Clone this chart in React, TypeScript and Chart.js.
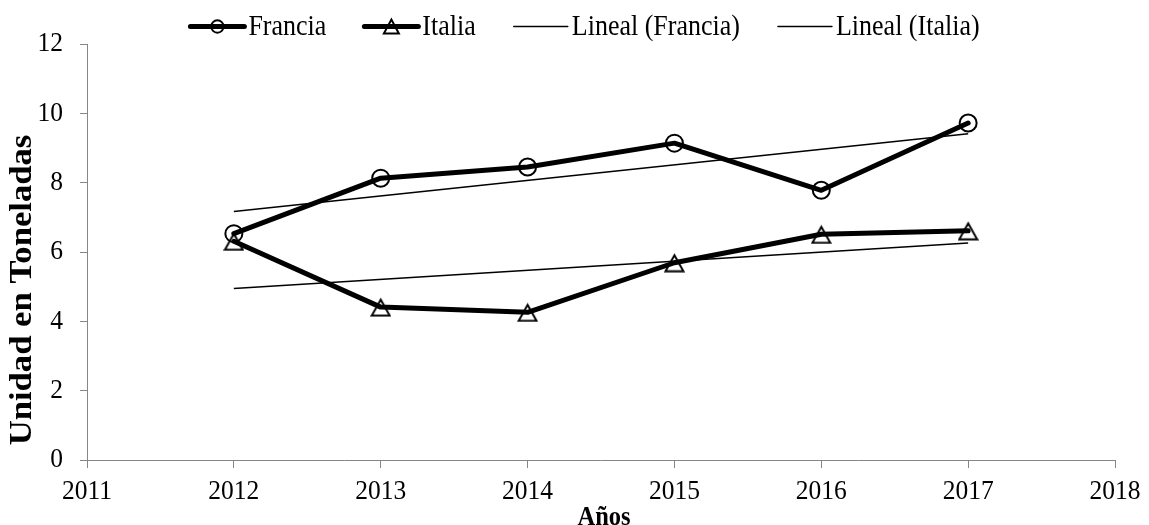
import React, { useEffect, useRef } from 'react';
import { Chart, registerables } from 'chart.js';

Chart.register(...registerables);

// ---- data ----
const years = [2012, 2013, 2014, 2015, 2016, 2017];
const francia = [6.53, 8.13, 8.45, 9.14, 7.78, 9.72];
const italia = [6.31, 4.41, 4.26, 5.69, 6.51, 6.61];
const trendYears = [2012, 2017];
const trendFrancia = [7.17, 9.41];
const trendItalia = [4.95, 6.26];
const seriesLabels = ['Francia', 'Italia', 'Lineal (Francia)', 'Lineal (Italia)'];
const xRange = [2011, 2018];
const yRange = [0, 12];
const yStep = 2;
const xTitle = 'Años';
const yTitle = 'Unidad en Toneladas';

const FONT = '"Liberation Serif", "Times New Roman", serif';
const AXIS_GRAY = '#868686';
const STRETCH = 1.1;

function makeTriangle(w: number, h: number, lw: number): HTMLCanvasElement {
  const c = document.createElement('canvas');
  c.width = w;
  c.height = h;
  const g = c.getContext('2d')!;
  g.strokeStyle = '#000';
  g.lineWidth = lw;
  g.lineJoin = 'miter';
  const i = lw / 2 + 0.5;
  g.beginPath();
  g.moveTo(w / 2, i + 1);
  g.lineTo(w - i, h - i);
  g.lineTo(i, h - i);
  g.closePath();
  g.stroke();
  return c;
}

function drawText(
  ctx: CanvasRenderingContext2D,
  text: string,
  x: number,
  y: number,
  font: string,
  align: CanvasTextAlign,
  rotated = false
) {
  ctx.save();
  ctx.translate(x, y);
  if (rotated) {
    ctx.rotate(-Math.PI / 2);
    ctx.scale(STRETCH, 1);
  } else {
    ctx.scale(1, STRETCH);
  }
  ctx.font = font;
  ctx.fillStyle = '#000';
  ctx.textAlign = align;
  ctx.textBaseline = 'middle';
  ctx.fillText(text, 0, 0);
  ctx.restore();
}

const textPlugin = {
  id: 'stretchedText',
  afterDraw(chart: any) {
    const ctx: CanvasRenderingContext2D = chart.ctx;
    const xs = chart.scales.x;
    const ys = chart.scales.y;
    const tickFont = `25.5px ${FONT}`;
    xs.ticks.forEach((t: any) => {
      drawText(ctx, String(t.value), xs.getPixelForValue(t.value), xs.top + 32, tickFont, 'center');
    });
    ys.ticks.forEach((t: any) => {
      drawText(ctx, String(t.value), ys.right - 24, ys.getPixelForValue(t.value), tickFont, 'right');
    });
    drawText(ctx, xTitle, (chart.chartArea.left + chart.chartArea.right) / 2 + 3, 518, `bold 24.5px ${FONT}`, 'center');
    drawText(ctx, yTitle, 23, 290, `bold 31.5px ${FONT}`, 'center', true);

    // legend
    const ds = chart.data.datasets;
    const SAMPLE = 54;
    const GAP = 4;
    const SPACING = 38;
    const cy = 26.5;
    const legendFont = `26px ${FONT}`;
    ctx.save();
    ctx.font = legendFont;
    const widths = ds.map((d: any) => ctx.measureText(d.label).width);
    ctx.restore();
    const total =
      widths.reduce((a: number, b: number) => a + b, 0) +
      ds.length * (SAMPLE + GAP) +
      (ds.length - 1) * SPACING;
    let x = 585 - total / 2;
    ds.forEach((d: any, i: number) => {
      ctx.save();
      ctx.strokeStyle = '#000';
      ctx.lineWidth = d.borderWidth;
      ctx.lineCap = 'round';
      ctx.beginPath();
      ctx.moveTo(x, cy);
      ctx.lineTo(x + SAMPLE, cy);
      ctx.stroke();
      const mx = x + SAMPLE / 2;
      if (d.legendMarker === 'circle') {
        ctx.lineWidth = 2;
        ctx.beginPath();
        ctx.arc(mx, cy, 6.2, 0, Math.PI * 2);
        ctx.stroke();
      } else if (d.legendMarker === 'triangle') {
        ctx.lineWidth = 2;
        ctx.beginPath();
        ctx.moveTo(mx, cy - 7);
        ctx.lineTo(mx + 7.5, cy + 7);
        ctx.lineTo(mx - 7.5, cy + 7);
        ctx.closePath();
        ctx.stroke();
      }
      ctx.restore();
      drawText(ctx, d.label, x + SAMPLE + GAP, cy + 1, legendFont, 'left');
      x += SAMPLE + GAP + widths[i] + SPACING;
    });
  },
};

export default function App() {
  const ref = useRef<HTMLCanvasElement | null>(null);

  useEffect(() => {
    if (!ref.current) return;
    const tri = makeTriangle(21, 20, 2);
    const chart = new Chart(ref.current, {
      type: 'line',
      data: {
        datasets: [
          {
            label: seriesLabels[0],
            data: years.map((x, i) => ({ x, y: francia[i] })),
            borderColor: '#000',
            borderWidth: 5,
            borderJoinStyle: 'round',
            borderCapStyle: 'round',
            pointStyle: 'circle',
            pointRadius: 8.5,
            pointBorderWidth: 2,
            pointBorderColor: '#000',
            pointBackgroundColor: 'rgba(0,0,0,0)',
            tension: 0,
            legendMarker: 'circle',
          } as any,
          {
            label: seriesLabels[1],
            data: years.map((x, i) => ({ x, y: italia[i] })),
            borderColor: '#000',
            borderWidth: 5,
            borderJoinStyle: 'round',
            borderCapStyle: 'round',
            pointStyle: tri,
            pointRadius: 10,
            tension: 0,
            legendMarker: 'triangle',
          } as any,
          {
            label: seriesLabels[2],
            data: trendYears.map((x, i) => ({ x, y: trendFrancia[i] })),
            borderColor: '#000',
            borderWidth: 1.5,
            pointRadius: 0,
            tension: 0,
            legendMarker: 'none',
          } as any,
          {
            label: seriesLabels[3],
            data: trendYears.map((x, i) => ({ x, y: trendItalia[i] })),
            borderColor: '#000',
            borderWidth: 1.5,
            pointRadius: 0,
            tension: 0,
            legendMarker: 'none',
          } as any,
        ],
      },
      options: {
        animation: false,
        responsive: true,
        maintainAspectRatio: false,
        events: [],
        layout: { padding: { top: 44, right: 33, bottom: 0, left: 0 } },
        plugins: {
          legend: { display: false },
          tooltip: { enabled: false },
        },
        scales: {
          x: {
            type: 'linear',
            min: xRange[0],
            max: xRange[1],
            afterFit: (s: any) => {
              s.height = 65;
            },
            ticks: {
              stepSize: 1,
              color: 'rgba(0,0,0,0)',
              padding: 9,
              font: { family: FONT, size: 25 },
              callback: (v: any) => String(v),
            },
            grid: {
              drawOnChartArea: false,
              drawTicks: true,
              tickLength: 8,
              color: AXIS_GRAY,
              lineWidth: 1,
            },
            border: { display: true, color: AXIS_GRAY, width: 1 },
            title: { display: false, text: xTitle },
          },
          y: {
            type: 'linear',
            min: yRange[0],
            max: yRange[1],
            afterFit: (s: any) => {
              s.width = 87;
            },
            ticks: {
              stepSize: yStep,
              color: 'rgba(0,0,0,0)',
              padding: 16,
              font: { family: FONT, size: 25 },
            },
            grid: {
              drawOnChartArea: false,
              drawTicks: true,
              tickLength: 7,
              color: AXIS_GRAY,
              lineWidth: 1,
            },
            border: { display: true, color: AXIS_GRAY, width: 1 },
            title: { display: false, text: yTitle },
          },
        },
      } as any,
      plugins: [textPlugin],
    });
    return () => chart.destroy();
  }, []);

  return (
    <div style={{ position: 'absolute', left: 0, top: 0, width: 1149, height: 525, background: '#fff' }}>
      <canvas ref={ref} />
    </div>
  );
}
